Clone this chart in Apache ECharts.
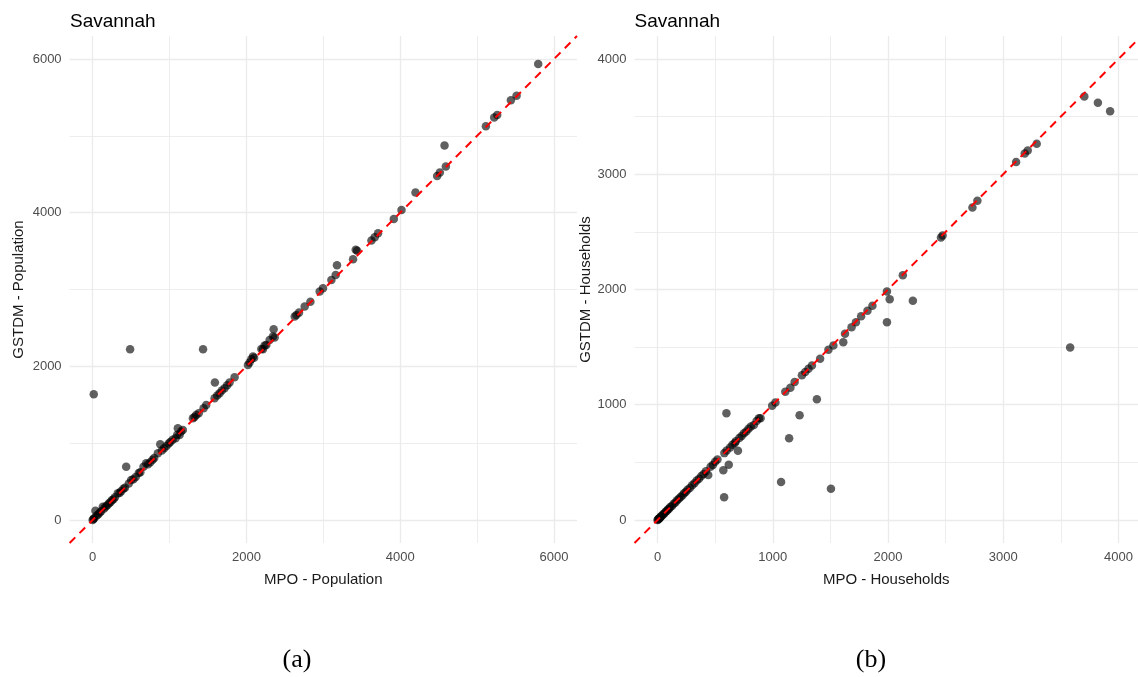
<!DOCTYPE html>
<html>
<head>
<meta charset="utf-8">
<script src="https://cdn.jsdelivr.net/npm/echarts@6/dist/echarts.min.js"></script>
<style>
html,body{margin:0;padding:0;background:#fff;}
#c{width:1138px;height:677px;}
</style>
</head>
<body>
<div id="c"></div>
<script>
// ---- Panel (a): Population ----
const popMPO = [0,10,20,36,50,70,90,110,132,150,170,190,210,230,250,270,290,327,350,370,400,420,436,470,501,530,560,600,620,661,696,720,750,780,800,848,879,900,930,960,990,1010,1040,1078,1100,1108,1130,1173,1150,
1304,1325,1347,1380,1443,1477,1586,1620,1651,1680,1716,1750,1781,1590,1846,2020,2040,2063,2085,2100,2194,2215,2237,2259,2302,2345,2354,2367,2628,2650,2684,2758,2832,2953,2996,3105,3161,3178,3387,3422,3440,3626,3669,3712,3917,4017,4199,4481,4516,4594,4577,5115,5223,5262,5440,5514,5795,
14,487,1436];
const popGSTDM = [0,12,22,121,55,72,95,112,173,150,175,192,215,232,255,270,295,348,352,375,405,420,694,475,521,530,560,610,622,694,738,725,752,785,805,868,986,905,935,962,995,1015,1045,1064,1110,1194,1107,1172,1150,
1324,1340,1367,1390,1454,1497,1584,1620,1649,1685,1715,1752,1788,1790,1858,2018,2050,2092,2127,2110,2227,2223,2270,2279,2344,2387,2483,2374,2648,2669,2699,2778,2839,2973,3017,3125,3190,3316,3395,3516,3505,3637,3681,3733,3919,4036,4262,4479,4522,4600,4874,5126,5238,5273,5465,5521,5934,
1637,2223,2223];

// ---- Panel (b): Households ----
const hhMPO = [0,5,10,15,20,25,30,40,50,60,70,80,90,100,110,125,140,155,170,185,200,215,230,245,260,280,300,320,340,360,380,400,420,440,460,480,500,520,571,580,598,600,618,630,650,670,680,698,710,730,750,770,790,810,836,860,880,894,
578,1072,1505,1142,1233,1383,995,1023,1109,1153,1190,1253,1282,1310,1340,1411,1483,1526,1612,1627,1684,1722,1767,1822,1865,1991,2015,2216,1991,2129,2460,2474,2733,2776,3112,3187,3213,3291,3704,3822,3928,3581];
const hhGSTDM = [0,5,8,15,18,25,30,38,50,58,72,78,90,98,112,122,140,152,172,183,200,213,232,243,262,278,302,318,342,358,382,398,422,390,462,478,505,525,431,580,925,602,479,628,652,668,682,600,712,728,752,768,792,812,824,858,882,882,
198,330,270,709,908,1048,991,1020,1112,1147,1198,1255,1284,1313,1341,1399,1477,1514,1543,1615,1672,1716,1767,1816,1859,1983,1916,1902,1715,2123,2451,2468,2712,2770,3106,3181,3207,3264,3675,3621,3546,1497];

// axis ranges and tick labels
const popRange = [-300, 6300];
const popMajor = [0, 2000, 4000, 6000];
const popMinor = [1000, 3000, 5000];
const hhRangeY = [-200, 4200];
const hhRangeX = [-200, 4170];
const hhMajor = [0, 1000, 2000, 3000, 4000];
const hhMinor = [500, 1500, 2500, 3500];

const FONT = '"Liberation Sans", Arial, sans-serif';
const gridColor = '#ebebeb';

function zip(a, b) { return a.map((v, i) => [v, b[i]]); }

function mainAxis(gridIndex, range, major, name, gap) {
  return {
    type: 'value', gridIndex, min: range[0], max: range[1],
    name, nameLocation: 'middle', nameGap: gap,
    nameTextStyle: { fontFamily: FONT, fontSize: 15, color: '#1a1a1a' },
    axisLine: { show: false },
    axisTick: { show: false, customValues: major },
    axisLabel: { customValues: major, fontFamily: FONT, fontSize: 13, color: '#4d4d4d', margin: 8,
                 formatter: v => String(v) },
    splitLine: { show: true, lineStyle: { color: gridColor, width: 1.3 } }
  };
}
function minorAxis(gridIndex, range, minor) {
  return {
    type: 'value', gridIndex, min: range[0], max: range[1],
    axisLine: { show: false }, axisTick: { show: false, customValues: minor },
    axisLabel: { show: false, customValues: minor },
    splitLine: { show: true, lineStyle: { color: gridColor, width: 0.9 } }
  };
}

const chart = echarts.init(document.getElementById('c'), null, { renderer: 'canvas' });
const dotStyle = { color: 'rgba(0,0,0,0.78)' };
const lineStyle = { color: '#ff0000', width: 2, type: [8, 6] };

chart.setOption({
  animation: false,
  backgroundColor: '#ffffff',
  title: [
    { text: 'Savannah', left: 70, top: 12, padding: 0, textStyle: { fontFamily: FONT, fontSize: 19, fontWeight: 'normal', color: '#000' } },
    { text: 'Savannah', left: 634.5, top: 12, padding: 0, textStyle: { fontFamily: FONT, fontSize: 19, fontWeight: 'normal', color: '#000' } }
  ],
  grid: [
    { left: 69.6, top: 36, width: 507.4, height: 507 },
    { left: 634.5, top: 36, width: 503.5, height: 507 }
  ],
  xAxis: [
    mainAxis(0, popRange, popMajor, 'MPO - Population', 29),
    mainAxis(1, hhRangeX, hhMajor, 'MPO - Households', 29),
    minorAxis(0, popRange, popMinor),
    minorAxis(1, hhRangeX, hhMinor)
  ],
  yAxis: [
    mainAxis(0, popRange, popMajor, 'GSTDM - Population', 43),
    mainAxis(1, hhRangeY, hhMajor, 'GSTDM - Households', 40),
    minorAxis(0, popRange, popMinor),
    minorAxis(1, hhRangeY, hhMinor)
  ],
  series: [
    { type: 'scatter', xAxisIndex: 0, yAxisIndex: 0, data: zip(popMPO, popGSTDM), symbolSize: 8.5, itemStyle: dotStyle, z: 3 },
    { type: 'line', xAxisIndex: 0, yAxisIndex: 0, data: [[popRange[0], popRange[0]], [popRange[1], popRange[1]]], symbol: 'none', lineStyle, z: 5, silent: true },
    { type: 'scatter', xAxisIndex: 1, yAxisIndex: 1, data: zip(hhMPO, hhGSTDM), symbolSize: 8.5, itemStyle: dotStyle, z: 3 },
    { type: 'line', xAxisIndex: 1, yAxisIndex: 1, data: [[hhRangeY[0], hhRangeY[0]], [hhRangeY[1], hhRangeY[1]]], symbol: 'none', lineStyle, z: 5, silent: true }
  ],
  graphic: [
    { type: 'text', x: 297, y: 660, style: { text: '(a)', font: '26px "Liberation Serif", "Times New Roman", serif', fill: '#000', textAlign: 'center', textVerticalAlign: 'middle' } },
    { type: 'text', x: 871, y: 660, style: { text: '(b)', font: '26px "Liberation Serif", "Times New Roman", serif', fill: '#000', textAlign: 'center', textVerticalAlign: 'middle' } }
  ]
});
</script>
</body>
</html>
